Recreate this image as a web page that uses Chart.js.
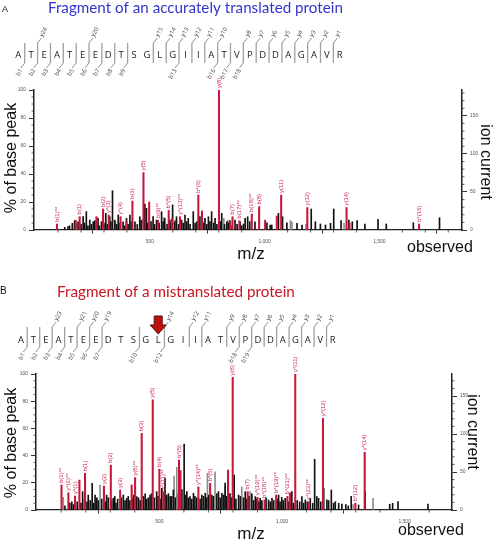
<!DOCTYPE html>
<html><head><meta charset="utf-8">
<script src="https://cdn.jsdelivr.net/npm/chart.js@4.4.0/dist/chart.umd.min.js"></script>
<style>
html,body{margin:0;padding:0;background:#fff}
body{width:493px;height:542px;overflow:hidden;position:relative}
#ca{position:absolute;left:0;top:0}
#cb{position:absolute;left:0;top:270px}
</style></head><body>
<canvas id="ca" width="493" height="270"></canvas>
<canvas id="cb" width="493" height="272"></canvas>
<script>
// ---------- data ----------
const PEPTIDE = "ATEATEEDTSGLGIIATVPDDAGAVR";
const X_LABELS = [500, 1000, 1500];
const Y_TICKS = [0, 20, 40, 60, 80, 100];
const Y2_TICKS = [0, 50, 100, 150];

// Panel A
const A_bIons = [1,2,3,4,5,6,7,8,9,13,16,17,18];
const A_yIons = [24,20,15,14,13,12,11,10,8,7,6,5,4,3,2,1];
const A_redMz  = [95,177,194,267,296,321,372,398,424,472,497,535,582,596,631,711,727,801,850,860,890,944,976,1002,1053,1072,1186,1357,1370,1673];
const A_redInt = [4.3,7,9.5,9.5,15,10.7,9.5,6,20.7,41,20,7,14,8,9.5,25,13.6,100,6,9.5,6.6,11.4,16.7,7,10,25,16,16,5,4.3];
const A_redLab = ["b(1)**","","b(1)","","b(2)","y*(3)","y*(4)","","b(3)","y(5)","","b(9)**","b*(5)","","y*(13)**","b*(6)","","y(8)","","b(7)","b(17)**","b(18)**","b(8)","","","y(11)","y(12)","y(14)","","b*(16)"];
const A_blackMz  = [129,143,150,162,172,187,200,209,215,223,230,238,245,253,260,274,280,289,300,308,315,325,330,337,347,355,362,370,383,390,398,405,413,420,435,445,456,462,478,485,490,505,514,520,529,540,551,558,565,575,587,592,599,608,616,625,638,645,653,660,667,675,689,697,705,718,733,740,748,755,762,769,778,784,792,808,813,825,835,842,849,858,871,880,893,900,908,915,926,935,958,1010,1024,1031,1060,1078,1097,1141,1163,1203,1221,1243,1265,1287,1301,1333,1367,1382,1403,1437,1494,1530,1648,1762];
const A_blackInt = [1.9,2.4,3,4.8,6.7,5.9,4,9.5,5,13.1,3,7.1,4,5.9,6.7,8.3,3,5.9,5,11.9,4,9.5,6,28,7.1,4,10.7,5,5.9,3,8.3,4,10.7,6,5.9,4,9.5,7,18.6,15.5,5,6,9.5,4,7.1,5,13.1,6,8.3,4,7.1,5,17.9,6,9.5,4,7.1,5,10.7,6,8.3,4,13.1,5,6,9.5,5,8.3,4,9.5,6,13.1,5,8.3,4,6,11.9,4,5.9,5,6.7,3,7.1,4,5.9,3,4.3,8.3,9.5,6,5.9,5.2,3.6,3.6,11.9,9.5,5.2,4.8,3.6,15,5.9,4.3,3.6,4.8,15,6.7,7.1,5.9,6.7,4.3,7.6,4.3,5.2,8.8];
const A_grayMz  = [180,268,350,470,560,610,730,822,840,1112,1119,1180,1346];
const A_grayInt = [4,5,6,8,9,7,6,8.3,7,6.7,5.9,4,5];

// Panel B
const B_bIons = [1,2,3,4,5,6,7,10,12,18,19];
const B_yIons = [23,21,20,19,14,12,11,9,8,7,6,5,4,3,2,1];
const B_redMz  = [101,129,156,174,197,274,302,340,387,401,428,473,500,517,580,586,659,707,780,799,860,900,929,976,1022,1033,1054,1108,1167,1299,1337];
const B_redInt = [18.4,12.7,10.3,22,27,17.6,33,14.7,18.4,23.8,56.4,81,30,13.5,36.8,29,17,19.6,29.4,97.5,13.5,9.3,7.4,11,10,12.6,100,6,67.4,5,42.4];
const B_redLab = ["b(1)**","y*(2)**","y*(1)","","b(1)","y(2)","b(2)","y(3)","","y(8)**","b(3)","y(5)","b(4)","y*(11)**","b*(5)","","y*(14)**","b*(6)","","y(8)","b(7)","y*(19)**","b*(18)**","b*(19)**","b*(21)**","","y*(11)","y*(23)**","y*(12)","b*(12)","y*(14)"];
const B_blackMz  = [115,135,143,150,165,180,187,195,205,210,218,226,232,238,245,251,265,280,285,292,305,312,318,323,330,345,353,360,367,373,380,390,395,408,415,422,435,442,448,455,462,468,480,489,495,505,510,523,530,537,544,550,557,565,578,592,601,605,612,618,625,632,639,645,652,666,673,680,687,693,701,714,720,734,741,748,755,762,768,775,788,795,805,812,823,830,843,850,856,865,877,884,891,895,905,911,918,935,945,952,959,966,980,986,992,999,1005,1013,1028,1040,1047,1062,1072,1081,1088,1095,1103,1115,1125,1133,1142,1149,1158,1170,1183,1190,1201,1210,1217,1231,1244,1260,1270,1282,1312,1339,1439,1451,1473,1595];
const B_blackInt = [3,5,6,4,6,5,13.5,8,6,11,7,19.6,5,11,9,7,8,6,11,9,7,8.6,10,5,8,9,11,7,8.6,10,7,8,11,9.8,9,7,10,11.8,8,9,11,12,9,13.5,10,8,16,23.5,11,12,9.8,10,14.7,9,12,15,48.5,11,13.5,9,9.8,8,12.3,10,9,8,11,10,12.3,9,11,11,10,12,13.5,9,12.3,11,19.8,10,12,9,25.7,8,11,10,9,13.5,8,10,11.8,7,9.8,8,6,8.6,7,9,7.4,6,8.6,7,8,11,6,9.3,7,8.6,6,13.5,5,7,6,9.8,5,7.4,6,8.6,5,37.3,9.8,8.6,6,16,7.4,7,14.7,5,6.1,4.9,4.4,4,3,10,3.7,13.5,4.2,4.9,6.1,4.4];
const B_grayMz  = [108,258,560,571,696,727,768,836,870,1290,1371];
const B_grayInt = [9.3,18.4,25,31.4,27,28,17,17,13.5,4,8.6];

// ---------- drawing ----------
const RED = 'rgb(200,22,60)';
const LABEL_RED = 'rgb(205,40,90)';

function line(c, x1, y1, x2, y2) { c.beginPath(); c.moveTo(x1, y1); c.lineTo(x2, y2); c.stroke(); }

function fitText(c, txt, family, target) {
  c.font = "20px " + family;
  const w = c.measureText(txt).width;
  const size = 20 * target / w;
  c.font = size.toFixed(2) + "px " + family;
}

function drawSeq(c, S, bIons, yIons) {
  const n = PEPTIDE.length;
  c.font = "9.5px 'Open Sans'"; c.fillStyle = '#222'; c.textAlign = 'center'; c.textBaseline = 'middle';
  for (let i = 0; i < n; i++) c.fillText(PEPTIDE[i], S.x0 + i * S.step, S.yc);
  const cuts = new Set([...bIons, ...yIons.map(k => n - k)]);
  c.strokeStyle = '#a0a0a0'; c.lineWidth = 1.3;
  cuts.forEach(k => { const x = S.x0 + (k - 0.5) * S.step; line(c, x, S.top, x, S.bot); });
  c.strokeStyle = '#444'; c.lineWidth = 0.6;
  c.font = "6px 'Open Sans'"; c.fillStyle = '#444'; c.textBaseline = 'middle';
  bIons.forEach(k => {
    const x = S.x0 + (k - 0.5) * S.step;
    line(c, x, S.bot, x - 4, S.bot + 5);
    c.save(); c.translate(x - 3.5, S.bot + 6.5); c.rotate(-Math.PI / 3);
    c.textAlign = 'right'; c.fillText('b' + k, 0, 0); c.restore();
  });
  yIons.forEach(k => {
    const x = S.x0 + (n - k - 0.5) * S.step;
    line(c, x, S.top, x + 4, S.top - 5);
    c.save(); c.translate(x + 3.5, S.top - 6.5); c.rotate(-Math.PI / 3);
    c.textAlign = 'left'; c.fillText('y' + k, 0, 0); c.restore();
  });
}

function makeDecor(P) {
  return {
    id: 'decor',
    afterDraw(chart) {
      const c = chart.ctx;
      const xs = chart.scales.x, ys = chart.scales.y, y2 = chart.scales.y2;
      c.save();
      // minor ticks
      c.strokeStyle = '#333'; c.lineWidth = 0.8;
      const L = chart.chartArea.left, R = chart.chartArea.right, B = chart.chartArea.bottom;
      for (let v = 5; v < 100; v += 5) { if (Y_TICKS.includes(v)) continue; const p = ys.getPixelForValue(v); line(c, L - 2.5, p, L, p); }
      for (let v = 10; v <= y2.max; v += 10) { if (Y2_TICKS.includes(v)) continue; const p = y2.getPixelForValue(v); line(c, R, p, R + 2.5, p); }
      for (let v = 100; v <= xs.max; v += 100) { if (X_LABELS.includes(v)) continue; const p = xs.getPixelForValue(v); line(c, p, B, p, B + 2.5); }
      // peak labels
      c.font = "6px 'Liberation Sans'"; c.fillStyle = LABEL_RED; c.textAlign = 'left'; c.textBaseline = 'middle';
      P.redLab.forEach((lab, i) => {
        if (!lab) return;
        const px = xs.getPixelForValue(P.redMz[i]), py = ys.getPixelForValue(P.redInt[i]);
        c.save(); c.translate(px, py - 2); c.rotate(-Math.PI / 2); c.fillText(lab, 0, 0); c.restore();
      });
      // panel letter
      c.fillStyle = '#111'; c.textAlign = 'left'; c.textBaseline = 'alphabetic';
      c.font = P.letterSize + "px 'Liberation Sans'";
      c.fillText(P.letter, P.letterX, P.letterY);
      // title
      fitText(c, P.title, "Lato", P.titleW);
      c.fillStyle = P.titleColor; c.fillText(P.title, P.titleX, P.titleY);
      // sequence
      drawSeq(c, P.seq, P.bIons, P.yIons);
      // arrow
      if (P.arrow) {
        const a = P.arrow;
        c.beginPath();
        c.moveTo(a.x - 4, a.y0); c.lineTo(a.x + 4, a.y0); c.lineTo(a.x + 4, a.y0 + 9);
        c.lineTo(a.x + 8, a.y0 + 9); c.lineTo(a.x, a.y1); c.lineTo(a.x - 8, a.y0 + 9);
        c.lineTo(a.x - 4, a.y0 + 9); c.closePath();
        c.fillStyle = 'rgb(190,18,18)'; c.fill();
        c.strokeStyle = '#5a0a0a'; c.lineWidth = 1; c.stroke();
      }
      // axis titles
      c.fillStyle = '#111'; c.font = "16px 'Liberation Sans'"; c.textBaseline = 'alphabetic';
      c.save(); c.translate(P.pctX, P.pctY); c.rotate(-Math.PI / 2); c.textAlign = 'center'; c.fillText('% of base peak', 0, 0); c.restore();
      c.save(); c.translate(P.ionX, P.ionY); c.rotate(Math.PI / 2); c.textAlign = 'center'; c.fillText('ion current', 0, 0); c.restore();
      c.textAlign = 'left'; c.fillText('observed', P.obsX, P.obsY);
      c.font = "17px 'Liberation Sans'"; c.textAlign = 'center'; c.fillText('m/z', P.mzX, P.mzY);
      c.restore();
    }
  };
}

function makeChart(id, P) {
  const ds = (mz, it, color, w) => ({
    type: 'bar', data: mz.map((m, i) => ({ x: m, y: it[i] })),
    backgroundColor: color, borderWidth: 0, barThickness: w, grouped: false,
    xAxisID: 'x', yAxisID: 'y'
  });
  const tickFont = { size: 5, family: "'Liberation Sans'" };
  return new Chart(document.getElementById(id), {
    type: 'bar',
    data: { datasets: [ds(P.redMz, P.redInt, RED, 1.4), ds(P.blackMz, P.blackInt, '#111', 1), ds(P.grayMz, P.grayInt, '#8c8c8c', 1)] },
    options: {
      responsive: false, animation: false, devicePixelRatio: 1,
      layout: { padding: { top: P.padTop, left: 0, right: 0, bottom: 0 } },
      plugins: { legend: { display: false }, tooltip: { enabled: false } },
      scales: {
        x: {
          type: 'linear', position: 'bottom', min: P.xMin, max: P.xMax, offset: false,
          grid: { display: true, drawOnChartArea: false, drawTicks: true, tickLength: 3.5, color: '#333' },
          border: { display: true, color: '#222', width: 1.3 },
          ticks: { font: tickFont, color: '#555', padding: 5, maxRotation: 0, autoSkip: false },
          afterBuildTicks: s => { s.ticks = X_LABELS.map(v => ({ value: v })); },
          afterFit: s => { s.height = P.xAxisH; }
        },
        y: {
          type: 'linear', position: 'left', min: 0, max: 100,
          grid: { display: true, drawOnChartArea: false, drawTicks: true, tickLength: 5, color: '#333' },
          border: { display: true, color: '#222', width: 1.5 },
          ticks: { font: tickFont, color: '#555', padding: 3, autoSkip: false },
          afterBuildTicks: s => { s.ticks = Y_TICKS.map(v => ({ value: v })); },
          afterFit: s => { s.width = P.leftW; }
        },
        y2: {
          type: 'linear', position: 'right', min: 0, max: P.y2Max, display: true,
          grid: { display: true, drawOnChartArea: false, drawTicks: true, tickLength: 5, color: '#333' },
          border: { display: true, color: '#222', width: 1.5 },
          ticks: { font: tickFont, color: '#555', padding: 3, autoSkip: false },
          afterBuildTicks: s => { s.ticks = Y2_TICKS.map(v => ({ value: v })); },
          afterFit: s => { s.width = P.rightW; }
        }
      }
    },
    plugins: [makeDecor(P)]
  });
}

makeChart('ca', {
  redMz: A_redMz, redInt: A_redInt, redLab: A_redLab,
  blackMz: A_blackMz, blackInt: A_blackInt, grayMz: A_grayMz, grayInt: A_grayInt,
  bIons: A_bIons, yIons: A_yIons,
  xMin: -5, xMax: 1860, y2Max: 184, padTop: 90, xAxisH: 40, leftW: 34, rightW: 31,
  letter: 'A', letterSize: 9, letterX: 2, letterY: 12,
  title: 'Fragment of an accurately translated protein', titleColor: 'rgb(52,52,205)', titleX: 48, titleY: 12.5, titleW: 295,
  seq: { x0: 18.3, step: 12.86, yc: 55, top: 43, bot: 63 },
  pctX: 15.5, pctY: 158, ionX: 481, ionY: 162, obsX: 407, obsY: 252, mzX: 251, mzY: 259
});

makeChart('cb', {
  redMz: B_redMz, redInt: B_redInt, redLab: B_redLab,
  blackMz: B_blackMz, blackInt: B_blackInt, grayMz: B_grayMz, grayInt: B_grayInt,
  bIons: B_bIons, yIons: B_yIons,
  xMin: -3, xMax: 1693, y2Max: 179, padTop: 104, xAxisH: 32, leftW: 36, rightW: 41,
  letter: 'B', letterSize: 10, letterX: 0, letterY: 24,
  title: 'Fragment of a mistranslated protein', titleColor: 'rgb(200,22,32)', titleX: 57, titleY: 26.5, titleW: 238,
  seq: { x0: 21, step: 12.47, yc: 70.7, top: 57, bot: 77 },
  arrow: { x: 158.2, y0: 46, y1: 64 },
  pctX: 15.5, pctY: 173, ionX: 468, ionY: 162, obsX: 398, obsY: 265, mzX: 251, mzY: 269
});
</script>
</body></html>
